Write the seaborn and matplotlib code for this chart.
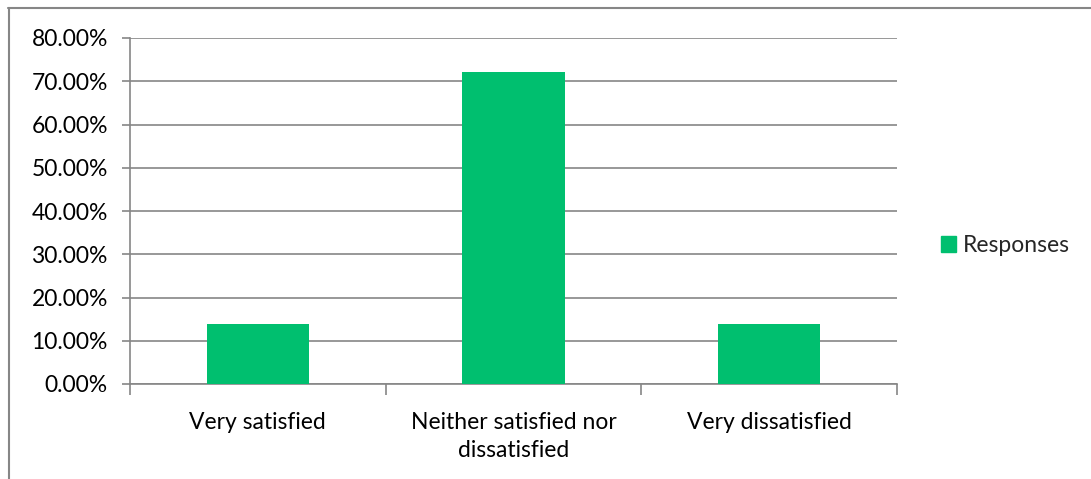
import matplotlib
matplotlib.use("Agg")
import matplotlib.pyplot as plt
import seaborn as sns
import pandas as pd
from matplotlib.lines import Line2D
from matplotlib.patches import Patch
from matplotlib.ticker import FuncFormatter, MultipleLocator

categories = ["Very satisfied", "Neither satisfied nor\ndissatisfied", "Very dissatisfied"]
values = [13.89, 72.22, 13.89]
series_name = "Responses"

sns.set_theme(style="white")
plt.rcParams['font.family'] = ['Lato', 'DejaVu Sans']

df = pd.DataFrame({"cat": categories, "val": values})

W, H = 1091, 479
fig = plt.figure(figsize=(W/100, H/100), dpi=100)
ax = fig.add_axes([130/W, 1 - 384/H, (897-130)/W, (384-38)/H])

sns.barplot(data=df, x="cat", y="val", color="#00BF6F", width=0.4, ax=ax,
            saturation=1, edgecolor="none", zorder=3)

FS = 16.5
ax.set_ylim(0, 80)
ax.set_xlim(-0.5, 2.5)
ax.yaxis.set_major_locator(MultipleLocator(10))
ax.yaxis.set_major_formatter(FuncFormatter(lambda v, p: f"{v:.2f}%"))
ax.grid(axis="y", color="#868686", linewidth=1.2, zorder=0)
ax.set_axisbelow(True)
for s in ["top", "right"]:
    ax.spines[s].set_visible(False)
for s in ["left", "bottom"]:
    ax.spines[s].set_color("#868686")
    ax.spines[s].set_linewidth(1.2)
ax.set_xlabel("")
ax.set_ylabel("")
ax.tick_params(axis="y", left=True, length=6, width=1.2, color="#868686",
               labelsize=FS, labelcolor="black", pad=10)
ax.tick_params(axis="x", bottom=False, labelsize=FS, labelcolor="black", pad=14)
ax.set_xticks(range(len(categories)))
ax.set_xticklabels(categories, linespacing=1.45)
ax.set_xticks([-0.5, 0.5, 1.5, 2.5], minor=True)
ax.tick_params(axis="x", which="minor", bottom=True, length=8, width=1.2,
               color="#868686", direction="out")

ax.legend(handles=[Patch(color="#00BF6F", label=series_name)],
          loc="center left", bbox_to_anchor=(1.03, 0.40), frameon=False,
          fontsize=FS, handlelength=0.65, handleheight=0.65, handletextpad=0.3)

# chart area border (top and left only visible)
fig.add_artist(Line2D([8/W, 1.0], [1 - 8/H, 1 - 8/H], transform=fig.transFigure,
                      color="#868686", linewidth=1.5))
fig.add_artist(Line2D([8.5/W, 8.5/W], [0, 1 - 8/H], transform=fig.transFigure,
                      color="#868686", linewidth=1.5))

fig.savefig("out.png", dpi=100)
